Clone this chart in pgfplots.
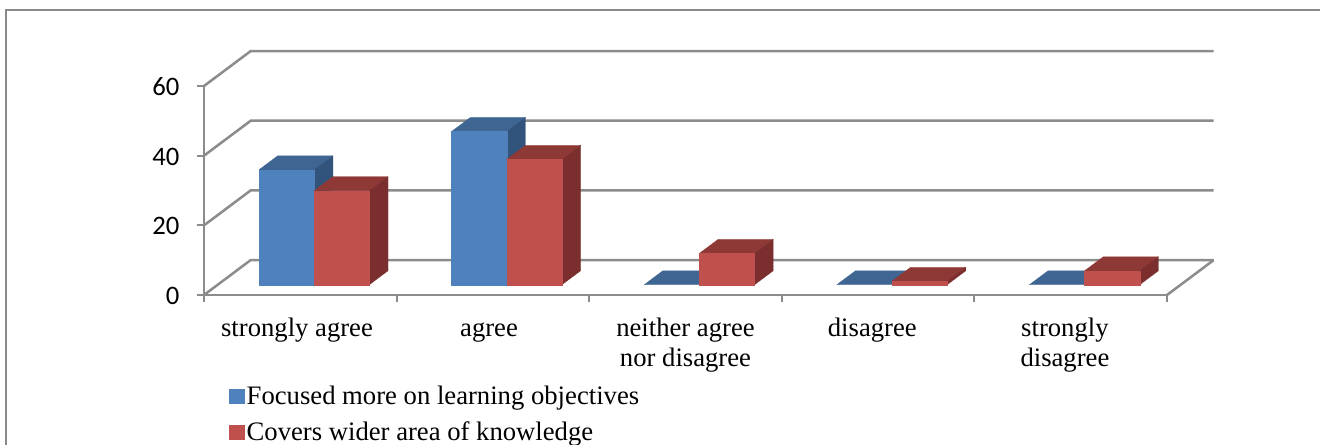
\documentclass[border=0pt]{standalone}
\usepackage{pgfplots}
\pgfplotsset{compat=1.18}
\usepackage{fontspec}
\setmainfont{Liberation Serif}
\newfontfamily\tickfont{Carlito}

\definecolor{gridgray}{HTML}{8C8C8C}
\definecolor{framegray}{HTML}{8A8A8A}
\definecolor{bluefront}{HTML}{4F81BD}
\definecolor{bluetop}{HTML}{3F6592}
\definecolor{blueside}{HTML}{32537C}
\definecolor{redfront}{HTML}{C0504D}
\definecolor{redtop}{HTML}{8F3937}
\definecolor{redside}{HTML}{7A2F2E}

% depth of the box in data units: back wall offset, bar base offset, bar depth
\def\wallx{0.2425}\def\wally{10.03}
\def\basex{0.2856}\def\basey{2.95}
\def\barw{0.2864}
\def\depthx{0.0971}\def\depthy{4.01}

% #1 category index, #2 slot (0 or 1), #3 value, #4 colour stem
\newcommand{\threedbar}[4]{%
  \pgfmathsetmacro{\xa}{#1+\basex+#2*\barw}%
  \pgfmathsetmacro{\xb}{\xa+\barw}%
  \pgfmathsetmacro{\xc}{\xa+\depthx}%
  \pgfmathsetmacro{\xd}{\xb+\depthx}%
  \pgfmathsetmacro{\ya}{\basey}%
  \pgfmathsetmacro{\yb}{\basey+#3}%
  \pgfmathsetmacro{\yc}{\yb+\depthy}%
  \pgfmathsetmacro{\yd}{\ya+\depthy}%
  \edef\drawthebar{%
    \noexpand\addplot[forget plot,fill=#4top,draw=#4top,line width=0.2pt]
      coordinates {(\xa,\yb) (\xb,\yb) (\xd,\yc) (\xc,\yc)} --cycle;
    \ifdim#3pt>0pt
    \noexpand\addplot[forget plot,fill=#4side,draw=#4side,line width=0.2pt]
      coordinates {(\xb,\ya) (\xd,\yd) (\xd,\yc) (\xb,\yb)} --cycle;
    \noexpand\addplot[forget plot,fill=#4front,draw=#4front,line width=0.2pt]
      coordinates {(\xa,\ya) (\xb,\ya) (\xb,\yb) (\xa,\yb)} --cycle;
    \fi
  }%
  \drawthebar
}

% one gridline running from the front edge to the back wall and along it
\newcommand{\gridline}[1]{%
  \pgfmathsetmacro{\yt}{#1+\wally}%
  \edef\drawthegrid{%
    \noexpand\addplot[forget plot,gridgray,line width=1.9pt,line join=miter]
      coordinates {(0,#1) (\wallx,\yt) (5.2425,\yt)};
  }%
  \drawthegrid
}

\begin{document}
\begin{tikzpicture}[x=0.75pt,y=0.75pt]
\useasboundingbox (-204,-150) rectangle (1116,295);
\begin{axis}[
  at={(0,0)}, anchor=south west,
  scale only axis,
  width=722.25pt, height=156.75pt,
  xmin=0, xmax=5, ymin=0, ymax=60,
  clip=false,
  axis x line*=bottom, axis y line*=left,
  axis line style={gridgray,line width=1.9pt,-},
  tick style={gridgray,line width=1.5pt},
  tick align=outside,
  major tick length=5.25pt,
  xtick={0,1,2,3,4,5},
  xticklabels={},
  ytick={0,20,40,60},
  yticklabel style={font=\tickfont\fontsize{20}{24}\selectfont,
    /pgf/number format/assume math mode=true, inner sep=0pt, xshift=-13pt, yshift=-0.8pt},
  extra x ticks={0.483,1.48,2.5,3.47,4.47},
  extra x tick labels={{\strut strongly agree},{\strut agree},{\strut neither agree\\\strut nor disagree},{\strut disagree},{\strut strongly\\\strut disagree}},
  extra x tick style={major tick length=0pt,
    tick label style={align=center,anchor=north,yshift=-11pt,
      font=\fontsize{20}{23.2}\selectfont}},
  legend style={at={(0.026,-0.424)},anchor=north west,draw=none,fill=none,
    inner sep=0pt,outer sep=0pt,font=\fontsize{20}{23.2}\selectfont,
    row sep=7.4pt,
    /tikz/every even column/.append style={column sep=0pt}},
  legend cell align=left,
]
\addlegendimage{legend image code/.code={\fill[bluefront] (0pt,-5.25pt) rectangle (11.25pt,5.25pt);},line width=0pt}
\addlegendentry{Focused more on learning objectives}
\addlegendimage{legend image code/.code={\fill[redfront] (0pt,-5.25pt) rectangle (11.25pt,5.25pt);},line width=0pt}
\addlegendentry{Covers wider area of knowledge}

% walls and floor behind the bars
\gridline{0}
\gridline{20}
\gridline{40}
\gridline{60}
\addplot[forget plot,gridgray,line width=1.9pt] coordinates {(5,0) (5.2425,10.03)};

% strongly agree
\threedbar{0}{0}{33}{blue}
\threedbar{0}{1}{27}{red}
% agree
\threedbar{1}{0}{44}{blue}
\threedbar{1}{1}{36}{red}
% neither agree nor disagree
\threedbar{2}{0}{0}{blue}
\threedbar{2}{1}{9}{red}
% disagree
\threedbar{3}{0}{0}{blue}
\threedbar{3}{1}{1}{red}
% strongly disagree
\threedbar{4}{0}{0}{blue}
\threedbar{4}{1}{4}{red}
\end{axis}
% outer chart frame, open at the right and the bottom
\draw[framegray,line width=1.3pt] (-198,-150) -- (-198,285) -- (1116,285);
\end{tikzpicture}
\end{document}
